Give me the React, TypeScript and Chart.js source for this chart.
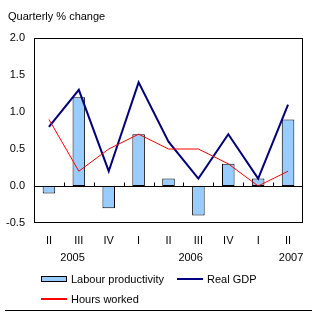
import React, { useEffect, useRef } from "react";
import { Chart, registerables } from "chart.js";

Chart.register(...registerables);

const quarters = ["II", "III", "IV", "I", "II", "III", "IV", "I", "II"];
const labourProductivity = [-0.1, 1.2, -0.3, 0.7, 0.1, -0.4, 0.3, 0.1, 0.9];
const realGDP = [0.8, 1.3, 0.2, 1.4, 0.6, 0.1, 0.7, 0.1, 1.1];
const hoursWorked = [0.9, 0.2, 0.5, 0.7, 0.5, 0.5, 0.3, 0.0, 0.2];
const years = ["2005", "2006", "2007"];
// category index (fractional) where each year label is centred
const yearPositions = [0.79, 4.74, 8.1];

const FONT = '"Liberation Sans", Arial, sans-serif';
const BAR_FILL = "#99CCFF";
const GDP_COLOR = "#000080";
const HOURS_COLOR = "#FF0000";

// box around the plot area, zero line with category ticks, and year labels
const decorations = {
  id: "decorations",
  afterDatasetsDraw(chart: any) {
    const { ctx, chartArea } = chart;
    const x = chart.scales.x;
    const y = chart.scales.y;
    ctx.save();
    ctx.strokeStyle = "#000";
    ctx.lineWidth = 1;
    const l = Math.round(chartArea.left) + 0.5;
    const r = Math.round(chartArea.right) - 0.5;
    const t = Math.round(chartArea.top) + 0.5;
    const b = Math.round(chartArea.bottom) - 0.5;
    ctx.strokeRect(l, t, r - l, b - t);
    const zy = Math.round(y.getPixelForValue(0)) + 0.5;
    ctx.beginPath();
    ctx.moveTo(l, zy);
    ctx.lineTo(r, zy);
    for (let i = 1; i < quarters.length; i++) {
      const px = Math.round(x.getPixelForValue(i - 0.5)) + 0.5;
      ctx.moveTo(px, zy);
      ctx.lineTo(px, zy - 4);
    }
    ctx.stroke();
    ctx.fillStyle = "#000";
    ctx.font = `11px ${FONT}`;
    ctx.textAlign = "center";
    ctx.textBaseline = "middle";
    years.forEach((yr, i) => {
      ctx.fillText(yr, x.getPixelForValue(yearPositions[i]), chartArea.bottom + 35);
    });
    ctx.restore();
  },
};

const legendItems = [
  { label: "Labour productivity", kind: "box", color: BAR_FILL, width: 6 },
  { label: "Real GDP", kind: "line", color: GDP_COLOR, width: 2 },
  { label: "Hours worked", kind: "line", color: HOURS_COLOR, width: 1.4 },
];
const legendSlots = [
  { left: 41, top: 279 },
  { left: 177, top: 279 },
  { left: 41, top: 299 },
];

export default function App() {
  const canvasRef = useRef<HTMLCanvasElement | null>(null);

  useEffect(() => {
    if (!canvasRef.current) return;
    const chart = new Chart(canvasRef.current, {
      type: "bar",
      data: {
        labels: quarters,
        datasets: [
          {
            type: "line",
            label: "Hours worked",
            data: hoursWorked,
            borderColor: HOURS_COLOR,
            borderWidth: 1,
            pointRadius: 0,
            tension: 0,
            order: 1,
          },
          {
            type: "line",
            label: "Real GDP",
            data: realGDP,
            borderColor: GDP_COLOR,
            borderWidth: 2,
            pointRadius: 0,
            tension: 0,
            order: 2,
          },
          {
            type: "bar",
            label: "Labour productivity",
            data: labourProductivity,
            backgroundColor: BAR_FILL,
            borderColor: "#000",
            borderWidth: 1,
            borderSkipped: false,
            categoryPercentage: 1,
            barPercentage: 0.42,
            order: 3,
          },
        ] as any,
      },
      options: {
        animation: false,
        responsive: false,
        layout: { padding: { left: 0, top: 38, right: 14, bottom: 63 } },
        plugins: {
          legend: { display: false },
          tooltip: { enabled: false },
          title: { display: false },
        },
        scales: {
          x: {
            grid: { display: false, drawTicks: false },
            border: { display: false },
            ticks: {
              color: "#000",
              font: { family: FONT, size: 11 },
              padding: 11,
              maxRotation: 0,
              autoSkip: false,
            },
            afterFit: (s: any) => {
              s.height = 30;
            },
          },
          y: {
            min: -0.5,
            max: 2.0,
            grid: { display: false, drawTicks: false },
            border: { display: false },
            ticks: {
              stepSize: 0.5,
              color: "#000",
              font: { family: FONT, size: 11 },
              padding: 9,
              callback: (v: any) => Number(v).toFixed(1),
            },
            afterFit: (s: any) => {
              s.width = 34;
            },
          },
        },
      } as any,
      plugins: [decorations],
    });
    return () => chart.destroy();
  }, []);

  return (
    <div
      style={{
        position: "fixed",
        left: 0,
        top: 0,
        width: 317,
        height: 316,
        background: "#fff",
        fontFamily: FONT,
        fontSize: 11,
        color: "#000",
      }}
    >
      <canvas ref={canvasRef} width={317} height={316} style={{ position: "absolute", left: 0, top: 0 }} />
      <div style={{ position: "absolute", left: 8, top: 9, lineHeight: "14px", whiteSpace: "nowrap" }}>
        Quarterly % change
      </div>
      {legendItems.map((item, i) => {
        const { left, top } = legendSlots[i];
        const h = item.width;
        return (
          <React.Fragment key={item.label}>
            <div
              style={{
                position: "absolute",
                left,
                top: item.kind === "box" ? top - Math.floor(h / 2) : top - h / 2,
                width: 26,
                height: h,
                boxSizing: "border-box",
                background: item.color,
                border: item.kind === "box" ? "1px solid #000" : "none",
              }}
            />
            <div
              style={{
                position: "absolute",
                left: left + 30,
                top: top - 7,
                lineHeight: "14px",
                whiteSpace: "nowrap",
              }}
            >
              {item.label}
            </div>
          </React.Fragment>
        );
      })}
      <div
        style={{
          position: "absolute",
          left: 5,
          top: 310,
          width: 307,
          height: 1,
          background: "#000",
        }}
      />
    </div>
  );
}
